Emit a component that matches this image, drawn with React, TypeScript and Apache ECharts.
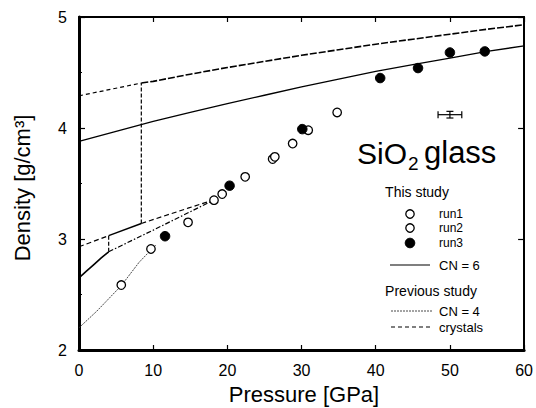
import React, { useEffect, useRef } from "react";
import * as echarts from "echarts";

// ---- data ----
const xTicks = [0, 10, 20, 30, 40, 50, 60];
const yTicks = [2, 3, 4, 5];

// This study: measured densities [pressure GPa, density g/cm3]
const run1 = [[5.7, 2.585], [9.7, 2.91], [14.7, 3.15], [18.2, 3.35], [22.4, 3.56], [26.1, 3.72], [28.8, 3.86], [34.8, 4.14]];
const run2 = [[19.3, 3.405], [26.4, 3.74], [30.9, 3.98]];
const run3 = [[11.6, 3.025], [20.3, 3.48], [30.1, 3.99], [40.6, 4.45], [45.7, 4.54], [50.0, 4.68], [54.7, 4.69]];

// This study: CN = 6 model
const cn6 = [[0, 3.88], [5, 3.97], [10, 4.06], [15, 4.14], [20, 4.22], [25, 4.295], [30, 4.37], [35, 4.44], [40, 4.51], [45, 4.57], [50, 4.63], [55, 4.69], [60, 4.74]];

// Previous study: CN = 4 (glass)
const cn4 = [[0, 2.2], [2.4, 2.35], [5.7, 2.58], [8.1, 2.79], [10.4, 2.95]];

// Previous study: crystals
const quartz = [[0, 2.65], [1, 2.71], [2, 2.77], [3, 2.83], [4, 2.885]];
const quartzMeta = [[4, 2.885], [10, 3.08], [18.3, 3.355]];
const coesiteLow = [[0, 2.93], [4, 3.03]];
const coesite = [[4, 3.03], [8.4, 3.14]];
const coesiteHigh = [[8.4, 3.14], [14.8, 3.28], [18.3, 3.355]];
const stishoviteLow = [[0, 4.29], [8.4, 4.405]];
const stishovite = [[8.4, 4.405], [10, 4.42], [15, 4.485], [20, 4.545], [25, 4.6], [30, 4.655], [35, 4.705], [40, 4.755], [45, 4.8], [50, 4.845], [55, 4.89], [60, 4.93]];
const stepQC = [[4, 2.885], [4, 3.03]];
const stepCS = [[8.4, 3.14], [8.4, 4.405]];

// typical error [P, D, dP, dD]
const errorBar = [[50, 4.12, 1.6, 0.03]];

const FONT = "'Liberation Sans', Arial, Helvetica, sans-serif";

export default function App() {
  const ref = useRef<HTMLDivElement>(null);
  useEffect(() => {
    if (!ref.current) return;
    const chart = echarts.init(ref.current, undefined, { renderer: "svg" });

    const lineSeries = (data: number[][], type: any, width: number, color = "#000") => ({
      type: "line",
      data,
      showSymbol: false,
      symbol: "none",
      silent: true,
      lineStyle: { color, width, type },
      z: 2,
    });

    const axisCommon = {
      type: "value",
      splitLine: { show: false },
    };

    const openStyle = { color: "#fff", borderColor: "#000", borderWidth: 1.3, opacity: 1 };

    const option: any = {
      animation: false,
      backgroundColor: "#fff",
      textStyle: { fontFamily: FONT },
      grid: { left: 79, right: 7, top: 17, bottom: 58 },
      xAxis: [
        {
          ...axisCommon,
          min: xTicks[0],
          max: xTicks[xTicks.length - 1],
          interval: 10,
          position: "bottom",
          axisLine: { show: true, onZero: false, lineStyle: { color: "#000", width: 3 } },
          axisTick: { show: true, inside: true, length: 5, lineStyle: { color: "#000", width: 1.2 } },
          axisLabel: { color: "#000", fontSize: 16, fontFamily: FONT, margin: 12 },
        },
        {
          ...axisCommon,
          min: xTicks[0],
          max: xTicks[xTicks.length - 1],
          interval: 10,
          position: "top",
          axisLine: { show: true, onZero: false, lineStyle: { color: "#000", width: 2 } },
          axisTick: { show: true, inside: true, length: 5, lineStyle: { color: "#000", width: 1.2 } },
          axisLabel: { show: false },
        },
      ],
      yAxis: [
        {
          ...axisCommon,
          min: yTicks[0],
          max: yTicks[yTicks.length - 1],
          interval: 1,
          position: "left",
          axisLine: { show: true, onZero: false, lineStyle: { color: "#000", width: 3 } },
          axisTick: { show: true, inside: true, length: 6, lineStyle: { color: "#000", width: 1.2 } },
          minorTick: { show: true, splitNumber: 2, length: 3, lineStyle: { color: "#000", width: 1 } },
          axisLabel: { color: "#000", fontSize: 16, fontFamily: FONT, margin: 12 },
        },
        {
          ...axisCommon,
          min: yTicks[0],
          max: yTicks[yTicks.length - 1],
          interval: 1,
          position: "right",
          axisLine: { show: true, onZero: false, lineStyle: { color: "#000", width: 2 } },
          axisTick: { show: true, inside: true, length: 6, lineStyle: { color: "#000", width: 1.2 } },
          axisLabel: { show: false },
        },
      ],
      series: [
        lineSeries(stishovite, [7, 2], 1.6),
        lineSeries(stishoviteLow, [4, 3], 1.2),
        lineSeries(cn6, "solid", 1.3),
        lineSeries(quartz, "solid", 1.6),
        lineSeries(stepQC, [4, 2], 1.2),
        lineSeries(coesiteLow, [5, 3], 1.2),
        lineSeries(coesite, "solid", 1.5),
        lineSeries(coesiteHigh, [5, 3], 1.2),
        lineSeries(stepCS, [4, 2], 1.2),
        lineSeries(quartzMeta, [5, 2, 1.5, 2], 1.2),
        lineSeries(cn4, [2, 1], 0.9, "#333"),
        {
          type: "scatter",
          name: "run1",
          data: run1,
          symbol: "circle",
          symbolSize: 8.5,
          itemStyle: openStyle,
          z: 5,
        },
        {
          type: "scatter",
          name: "run2",
          data: run2,
          symbol: "circle",
          symbolSize: 8.5,
          itemStyle: openStyle,
          z: 5,
        },
        {
          type: "scatter",
          name: "run3",
          data: run3,
          symbol: "circle",
          symbolSize: 9.5,
          itemStyle: { color: "#000", borderColor: "#000", borderWidth: 1, opacity: 1 },
          z: 6,
        },
        {
          type: "custom",
          data: errorBar,
          silent: true,
          z: 6,
          renderItem: (params: any, api: any) => {
            const x = api.value(0), y = api.value(1), dx = api.value(2), dy = api.value(3);
            const l = api.coord([x - dx, y]);
            const r = api.coord([x + dx, y]);
            const t = api.coord([x, y + dy]);
            const b = api.coord([x, y - dy]);
            const st = { stroke: "#000", lineWidth: 1.2 };
            const cap = 3.5;
            return {
              type: "group",
              children: [
                { type: "line", shape: { x1: l[0], y1: l[1], x2: r[0], y2: r[1] }, style: st },
                { type: "line", shape: { x1: l[0], y1: l[1] - cap, x2: l[0], y2: l[1] + cap }, style: st },
                { type: "line", shape: { x1: r[0], y1: r[1] - cap, x2: r[0], y2: r[1] + cap }, style: st },
                { type: "line", shape: { x1: t[0], y1: t[1], x2: b[0], y2: b[1] }, style: st },
                { type: "line", shape: { x1: t[0] - cap, y1: t[1], x2: t[0] + cap, y2: t[1] }, style: st },
                { type: "line", shape: { x1: b[0] - cap, y1: b[1], x2: b[0] + cap, y2: b[1] }, style: st },
              ],
            };
          },
        },
      ],
      graphic: [
        // axis titles
        {
          type: "text",
          x: 304,
          y: 394,
          style: { text: "Pressure [GPa]", fontSize: 22, fontFamily: FONT, fill: "#000", align: "center", verticalAlign: "middle" },
        },
        {
          type: "text",
          x: 22,
          y: 188,
          rotation: Math.PI / 2,
          style: { text: "Density [g/cm³]", fontSize: 22, fontFamily: FONT, fill: "#000", align: "center", verticalAlign: "middle" },
        },
        // SiO2 glass
        { type: "text", x: 357, y: 168, style: { text: "SiO", fontSize: 30, fontFamily: FONT, fill: "#000", align: "left", verticalAlign: "bottom" } },
        { type: "text", x: 408, y: 173, style: { text: "2", fontSize: 19, fontFamily: FONT, fill: "#000", align: "left", verticalAlign: "bottom" } },
        { type: "text", x: 424, y: 168, style: { text: "glass", fontSize: 31, fontFamily: FONT, fill: "#000", align: "left", verticalAlign: "bottom" } },
        // legend: this study
        { type: "text", x: 417, y: 192, style: { text: "This study", fontSize: 14, fontFamily: FONT, fill: "#000", align: "center", verticalAlign: "middle" } },
        { type: "circle", shape: { cx: 410, cy: 214, r: 4.2 }, style: { fill: "#fff", stroke: "#000", lineWidth: 1.3 } },
        { type: "text", x: 439, y: 214, style: { text: "run1", fontSize: 12, fontFamily: FONT, fill: "#000", align: "left", verticalAlign: "middle" } },
        { type: "circle", shape: { cx: 410, cy: 228, r: 4.2 }, style: { fill: "#fff", stroke: "#000", lineWidth: 1.3 } },
        { type: "text", x: 439, y: 228, style: { text: "run2", fontSize: 12, fontFamily: FONT, fill: "#000", align: "left", verticalAlign: "middle" } },
        { type: "circle", shape: { cx: 410, cy: 243, r: 4.8 }, style: { fill: "#000", stroke: "#000", lineWidth: 1 } },
        { type: "text", x: 439, y: 243, style: { text: "run3", fontSize: 12, fontFamily: FONT, fill: "#000", align: "left", verticalAlign: "middle" } },
        { type: "line", shape: { x1: 390, y1: 265, x2: 430, y2: 265 }, style: { stroke: "#000", lineWidth: 1.2 } },
        { type: "text", x: 439, y: 265, style: { text: "CN = 6", fontSize: 13, fontFamily: FONT, fill: "#000", align: "left", verticalAlign: "middle" } },
        // legend: previous study
        { type: "text", x: 431, y: 291, style: { text: "Previous study", fontSize: 14, fontFamily: FONT, fill: "#000", align: "center", verticalAlign: "middle" } },
        { type: "line", shape: { x1: 391, y1: 311, x2: 432, y2: 311 }, style: { stroke: "#333", lineWidth: 0.9, lineDash: [2, 1] } },
        { type: "text", x: 439, y: 311, style: { text: "CN = 4", fontSize: 13, fontFamily: FONT, fill: "#000", align: "left", verticalAlign: "middle" } },
        { type: "line", shape: { x1: 391, y1: 327, x2: 432, y2: 327 }, style: { stroke: "#000", lineWidth: 1.2, lineDash: [4, 3] } },
        { type: "text", x: 439, y: 327, style: { text: "crystals", fontSize: 13, fontFamily: FONT, fill: "#000", align: "left", verticalAlign: "middle" } },
      ],
    };

    chart.setOption(option);
    return () => chart.dispose();
  }, []);

  return <div ref={ref} style={{ width: 536, height: 408, position: "absolute", left: 0, top: 0 }} />;
}
